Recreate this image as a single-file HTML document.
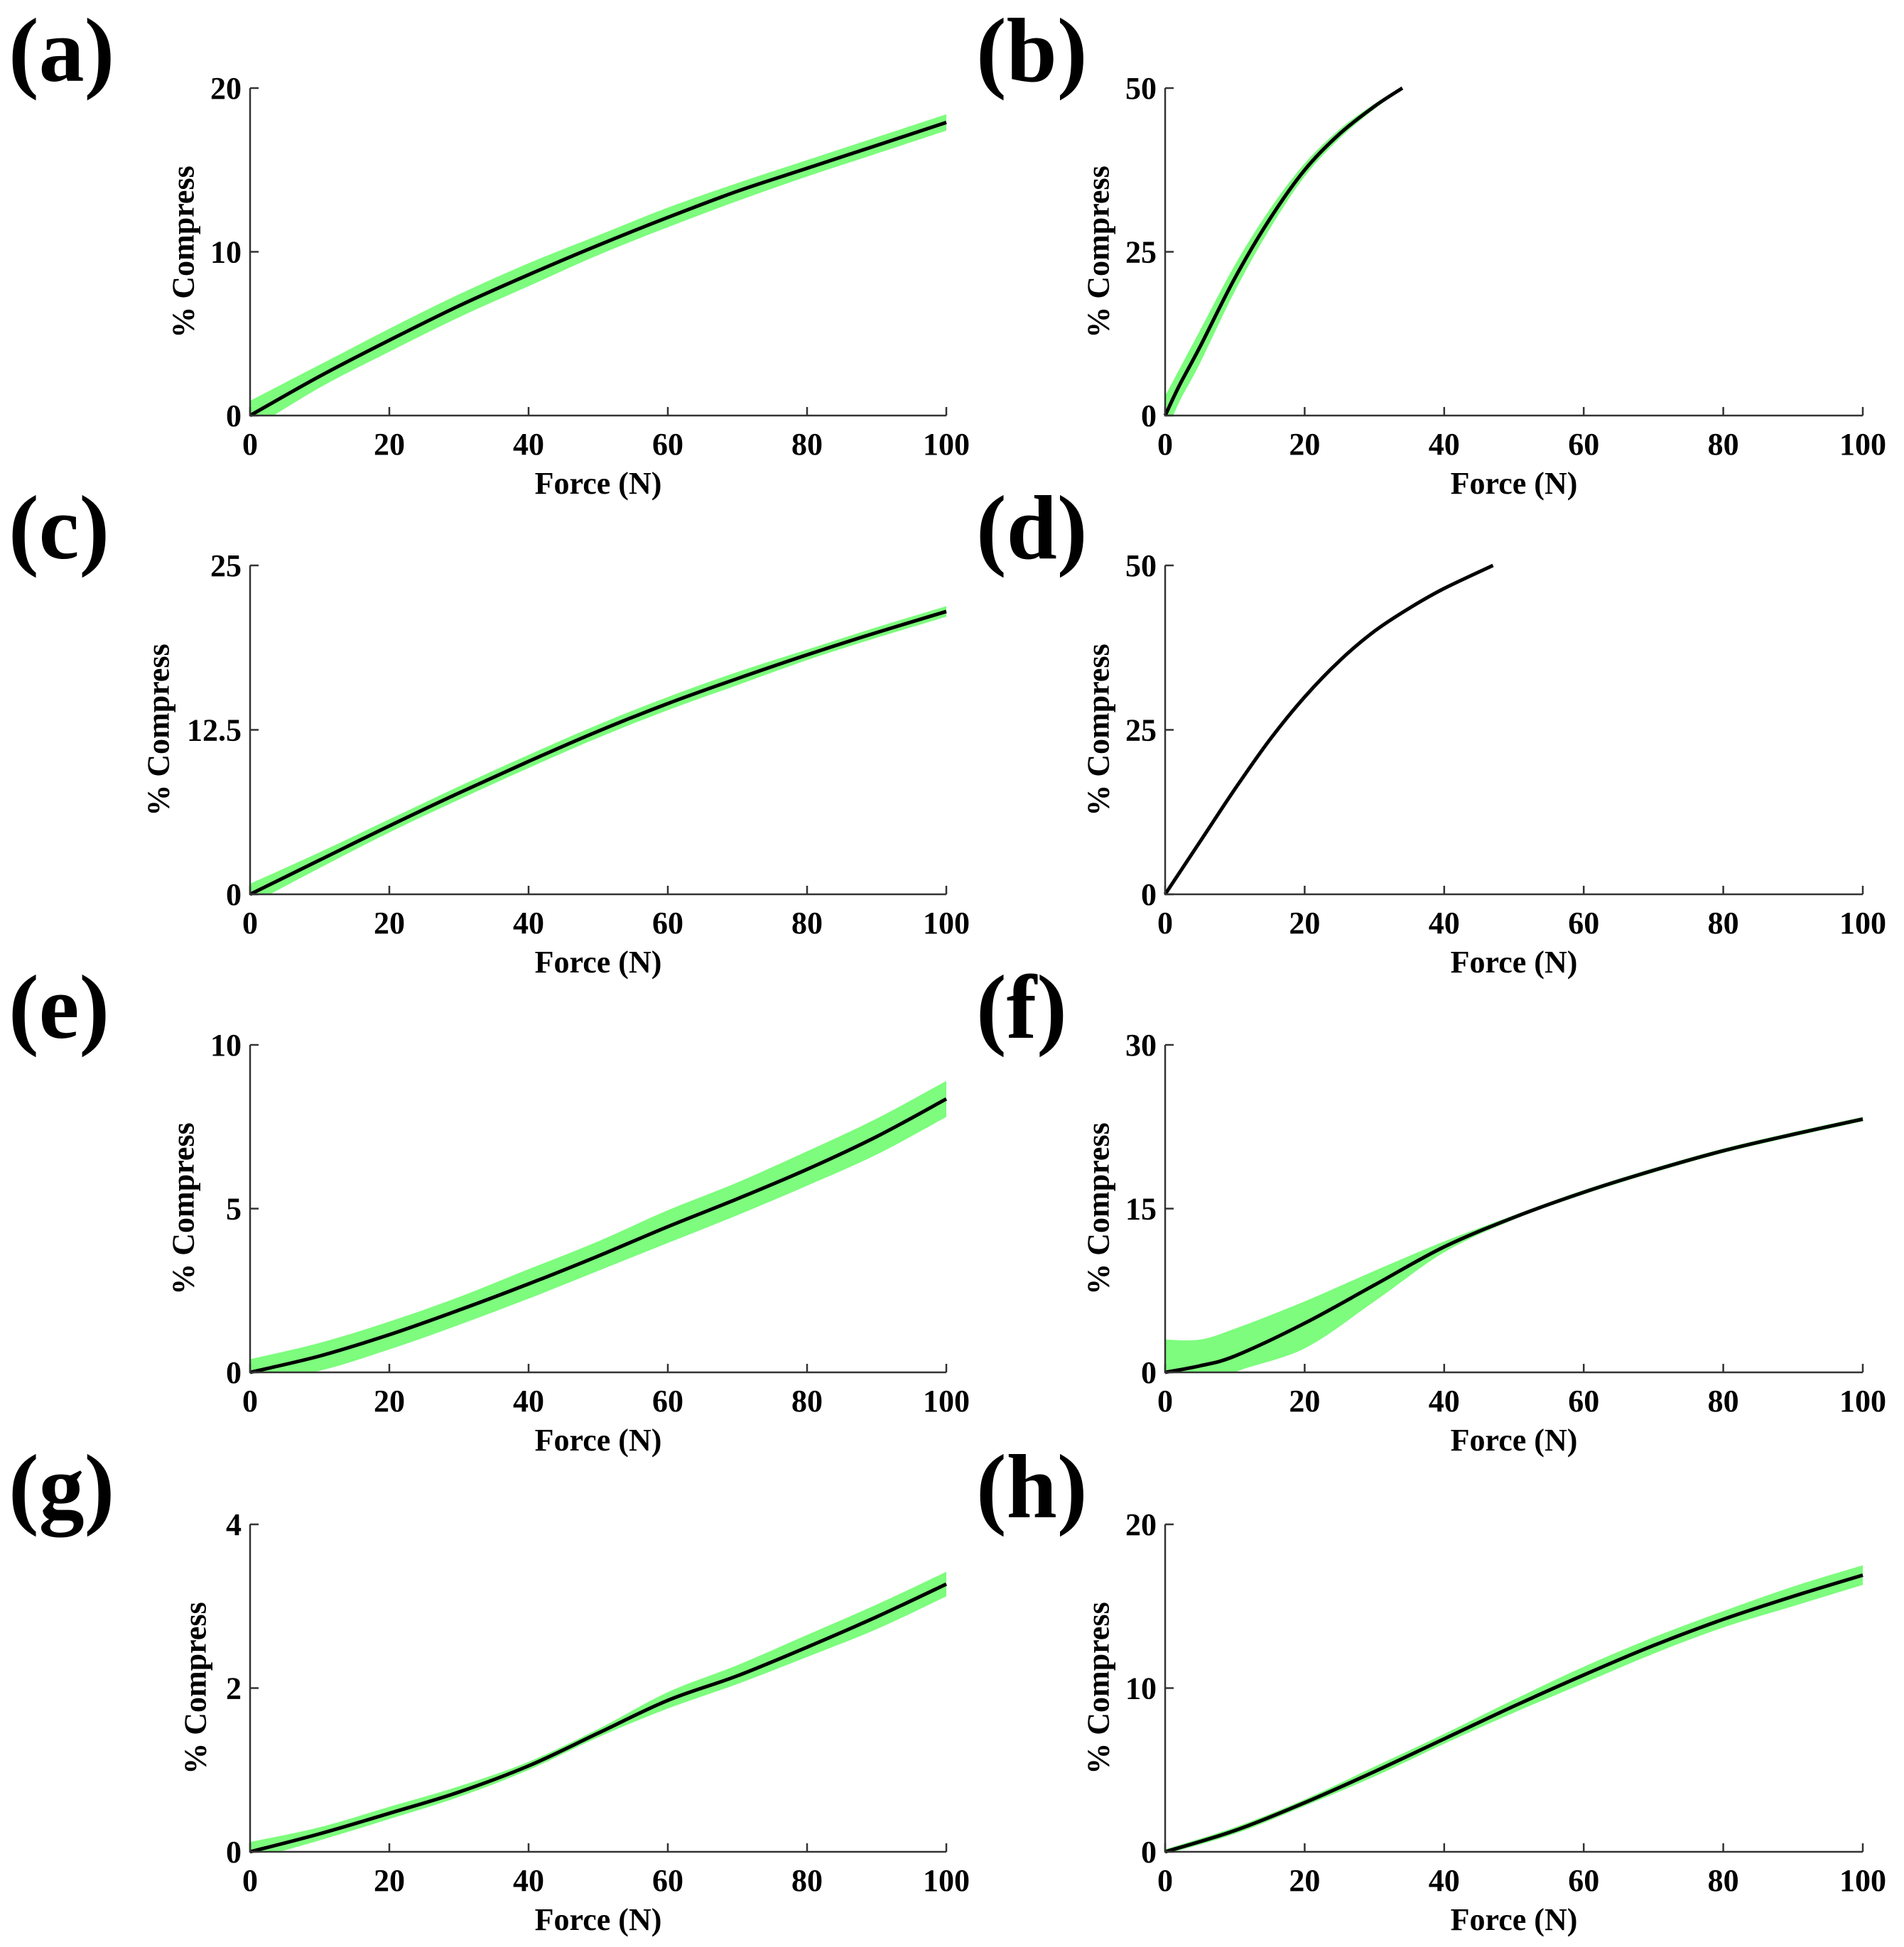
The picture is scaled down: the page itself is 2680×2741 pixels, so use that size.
<!DOCTYPE html>
<html><head><meta charset="utf-8"><style>
html,body{margin:0;padding:0;background:#fff;}
svg{display:block;}
text{font-family:"Liberation Serif",serif;font-weight:bold;fill:#000;}
</style></head><body>
<svg id="fig" width="2680" height="2741" viewBox="0 0 2680 2741" xmlns="http://www.w3.org/2000/svg"></svg>
<script>
// ---- data ----
const labels = ["(a)","(b)","(c)","(d)","(e)","(f)","(g)","(h)"];
const yMaxes = [20,50,25,50,10,30,4,20];
const yTickLabels = [["0","10","20"],["0","25","50"],["0","12.5","25"],["0","25","50"],["0","5","10"],["0","15","30"],["0","2","4"],["0","10","20"]];
const forceA = [0,10,20,30,40,50,60,70,80,90,100];
const meanA = [0,2.4,4.6,6.7,8.6,10.4,12.1,13.7,15.1,16.5,17.9];
const hiA = [0.9,3.1,5.3,7.4,9.3,11.0,12.7,14.2,15.6,17.0,18.4];
const loA = [-0.9,1.7,3.9,6.0,7.9,9.8,11.5,13.1,14.6,16.0,17.4];
const forceB = [0,2,5,10,15,20,25,30,34];
const meanB = [0,4.5,10.5,21,30,37.5,43,47.2,50];
const hiB = [3,7,13,23,31.5,38.5,43.7,47.6,50.2];
const loB = [-3,2,8,19,28.5,36.5,42.3,46.8,49.8];
const forceC = forceA;
const meanC = [0,2.6,5.2,7.7,10.1,12.4,14.5,16.4,18.2,19.9,21.5];
const hiC = [0.8,3.2,5.7,8.2,10.6,12.9,15.0,16.9,18.6,20.3,21.9];
const loC = [-0.8,2.0,4.7,7.2,9.6,11.9,14.0,15.9,17.8,19.5,21.1];
const forceD = [0,5,10,15,20,25,30,35,40,47];
const meanD = [0,8,16,23.5,30,35.5,40,43.5,46.5,50];
const hiD = [0.2,8.2,16.2,23.7,30.2,35.7,40.2,43.7,46.7,50.1];
const loD = [-0.2,7.8,15.8,23.3,29.8,35.3,39.8,43.3,46.3,49.9];
const forceE = forceA;
const meanE = [0,0.5,1.15,1.9,2.7,3.55,4.45,5.3,6.2,7.2,8.35];
const hiE = [0.4,0.9,1.55,2.3,3.15,4.0,4.95,5.8,6.75,7.75,8.9];
const loE = [-0.3,0.05,0.7,1.45,2.25,3.1,3.95,4.8,5.7,6.65,7.8];
const forceF = [0,5,10,20,30,40,50,60,70,80,90,100];
const meanF = [0,0.6,1.5,4.5,8,11.5,14.2,16.5,18.5,20.3,21.8,23.2];
const hiF = [3,3,4,6.5,9.3,12,14.4,16.7,18.7,20.5,22.0,23.4];
const loF = [-3,-2,0,2.2,6.5,11,14.0,16.3,18.3,20.1,21.6,23.0];
const forceG = forceA;
const meanG = [0,0.22,0.47,0.73,1.05,1.45,1.85,2.15,2.5,2.87,3.27];
const hiG = [0.12,0.3,0.55,0.8,1.1,1.5,1.95,2.28,2.65,3.02,3.42];
const loG = [-0.1,0.14,0.4,0.67,1.0,1.4,1.75,2.05,2.38,2.72,3.12];
const forceH = forceA;
const meanH = [0,1.3,3,4.9,6.9,8.9,10.8,12.6,14.2,15.6,16.9];
const hiH = [0.15,1.5,3.2,5.2,7.2,9.3,11.3,13.1,14.7,16.2,17.5];
const loH = [-0.15,1.1,2.8,4.6,6.6,8.5,10.3,12.1,13.7,15.0,16.3];
const forces=[forceA,forceB,forceC,forceD,forceE,forceF,forceG,forceH];
const means=[meanA,meanB,meanC,meanD,meanE,meanF,meanG,meanH];
const his=[hiA,hiB,hiC,hiD,hiE,hiF,hiG,hiH];
const los=[loA,loB,loC,loD,loE,loF,loG,loH];
const xTickLabels=["0","20","40","60","80","100"];

const NS="http://www.w3.org/2000/svg";
const svg=document.getElementById('fig');
function mk(tag,attrs,parent){const e=document.createElementNS(NS,tag);for(const k in attrs)e.setAttribute(k,attrs[k]);(parent||svg).appendChild(e);return e;}
function smooth(pts){
  let d="M"+pts[0][0].toFixed(1)+","+pts[0][1].toFixed(1);
  for(let i=0;i<pts.length-1;i++){
    const p0=pts[Math.max(0,i-1)],p1=pts[i],p2=pts[i+1],p3=pts[Math.min(pts.length-1,i+2)];
    const c1=[p1[0]+(p2[0]-p0[0])/6,p1[1]+(p2[1]-p0[1])/6];
    const c2=[p2[0]-(p3[0]-p1[0])/6,p2[1]-(p3[1]-p1[1])/6];
    d+=" C"+c1.map(v=>v.toFixed(1)).join(",")+" "+c2.map(v=>v.toFixed(1)).join(",")+" "+p2[0].toFixed(1)+","+p2[1].toFixed(1);
  }
  return d;
}
const colX=[352,1640], colR=[1332,2622];
const rowTop=[124,796,1471,2146], rowBot=[585,1259,1932,2607];
const ylabX=[[258,1546],[223,1546],[258,1546],[275,1546]];
for(let p=0;p<8;p++){
  const c=p%2,r=Math.floor(p/2);
  const x0=colX[c],x1=colR[c],yT=rowTop[r],yB=rowBot[r];
  const g=mk('g',{});
  
  
  const sx=v=>x0+(x1-x0)*v/100;
  const sy=v=>yB-(yB-yT)*v/yMaxes[p];
  const clipId='clip'+p;
  const cp=mk('clipPath',{id:clipId},g);mk('rect',{x:x0,y:yT-10,width:x1-x0+10,height:yB-yT+10},cp);
  const F=forces[p];
  const up=F.map((f,i)=>[sx(f),sy(his[p][i])]);
  const lo=F.map((f,i)=>[sx(f),sy(los[p][i])]).reverse();
  const upD=smooth(up), loD=smooth(lo).replace(/^M/,' L');
  const band=mk('path',{d:upD+loD+' Z',fill:'#7dfc7d',stroke:'none','clip-path':'url(#'+clipId+')'},g);
  
  
  const line=mk('path',{d:smooth(F.map((f,i)=>[sx(f),sy(means[p][i])])),fill:'none',stroke:'#000','stroke-width':5},g);
  
  
  mk('path',{d:`M${x0},${yT} L${x0},${yB} L${x1},${yB}`,fill:'none',stroke:'#333','stroke-width':2.5},g);
  for(let i=0;i<6;i++){
    const tx=sx(i*20);
    mk('line',{x1:tx,y1:yB,x2:tx,y2:yB-12,stroke:'#333','stroke-width':2.5},g);
    const t=mk('text',{x:tx,y:yB+55,'font-size':44,'text-anchor':'middle'},g);
    
    
    t.textContent=xTickLabels[i];
  }
  const yt=yTickLabels[p];
  for(let i=0;i<3;i++){
    const v=yMaxes[p]*i/2, ty=sy(v);
    mk('line',{x1:x0,y1:ty,x2:x0+12,y2:ty,stroke:'#333','stroke-width':2.5},g);
    const t=mk('text',{x:x0-12,y:ty+15,'font-size':44,'text-anchor':'end'},g);
    
    
    t.textContent=yt[i];
  }
  const xt=mk('text',{x:(x0+x1)/2,y:yB+110,'font-size':44,'text-anchor':'middle'},g);
  
  
  xt.textContent='Force (N)';
  const ylx=ylabX[r][c], ylm=(yT+yB)/2;
  const yl=mk('text',{x:ylx,y:ylm,'font-size':44,'text-anchor':'middle','dominant-baseline':'central',transform:`rotate(-90 ${ylx} ${ylm})`},g);
  
  
  yl.textContent='% Compress';
  const lt=mk('text',{x:c===0?12:1374,y:rowTop[r]-10,'font-size':128},g);
  
  
  lt.textContent=labels[p];
}
</script>
</body></html>
